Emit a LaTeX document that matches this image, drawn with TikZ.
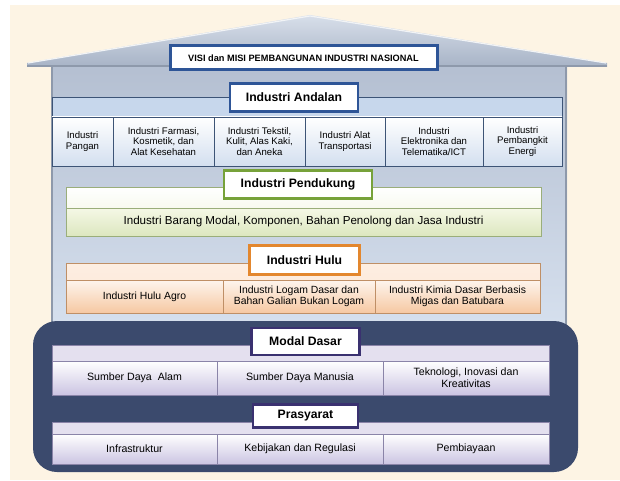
\documentclass[tikz,border=0pt]{standalone}
\usepackage{fontspec}
\setmainfont{Liberation Sans}
\definecolor{cream}{HTML}{FDF4E4}
\definecolor{roofhi}{HTML}{D8DFEA}
\definecolor{roofdk}{HTML}{A7B3C6}
\definecolor{walltop}{HTML}{B4BFD1}
\definecolor{wallbot}{HTML}{D6E0EE}
\definecolor{wallline}{HTML}{8E99AB}
\definecolor{andblue}{HTML}{2E5597}
\definecolor{andstrip}{HTML}{C7D7EC}
\definecolor{andcellb}{HTML}{D3DFEF}
\definecolor{andedge}{HTML}{3D5476}
\definecolor{pendgreen}{HTML}{77A23A}
\definecolor{pendtop}{HTML}{F5F8E6}
\definecolor{pendbot}{HTML}{DCE7BF}
\definecolor{pendedge}{HTML}{9AAE7A}
\definecolor{huluorange}{HTML}{E3872E}
\definecolor{hulutop}{HTML}{FDEEE2}
\definecolor{hulubot}{HTML}{F6C8A2}
\definecolor{huluedge}{HTML}{BF8F66}
\definecolor{basenavy}{HTML}{3B4A6D}
\definecolor{modpurple}{HTML}{3A3170}
\definecolor{modstrip}{HTML}{E4E0EF}
\definecolor{modbot}{HTML}{CBC4E2}
\definecolor{modedge}{HTML}{8A84A8}
\begin{document}
\begin{tikzpicture}[x=1pt,y=-1pt,
  titlebox/.style={draw, fill=white, line width=2.8pt, font=\bfseries\fontsize{12.2}{13}\selectfont,
    inner sep=0pt, align=center},
  cell/.style={inner sep=1pt, align=center, font=\fontsize{9.6}{10.2}\selectfont},
  andcell/.style={cell, draw=andedge, line width=0.9pt, top color=white, bottom color=andcellb},
  pendcell/.style={cell, draw=pendedge, line width=0.6pt, top color=pendtop, bottom color=pendbot,
    font=\fontsize{11.6}{12.5}\selectfont},
  hulucell/.style={cell, draw=huluedge, line width=0.8pt, top color=hulutop!60!white, bottom color=hulubot,
    font=\fontsize{10.4}{11.6}\selectfont},
  modcell/.style={cell, draw=modedge, line width=0.6pt, top color=white, bottom color=modbot,
    font=\fontsize{10.6}{11.6}\selectfont},
]
\useasboundingbox (0,0) rectangle (620,481);
\fill[white] (0,0) rectangle (620,481);
\fill[cream] (10,5) rectangle (620,480);

% house body
\shade[top color=walltop, bottom color=wallbot] (51,62) rectangle (567,330);
\draw[wallline, line width=1.4pt] (52,64) -- (52,330);
\draw[wallline, line width=1.4pt] (566,64) -- (566,330);
% roof
\shade[top color=roofhi, bottom color=roofdk] (27,63) -- (310,15) -- (607,63) -- (607,67) -- (27,67) -- cycle;
\draw[white!85!roofdk, line width=1.2pt] (28,63) -- (310,16) -- (606,63);
\draw[wallline, line width=1.6pt] (27,66) -- (607,66);

% vision banner
\node[titlebox, draw=andblue, line width=3pt, minimum width=267pt, minimum height=24pt,
  font=\bfseries\fontsize{9.2}{10}\selectfont] (visi) at (303.5,58)
  {VISI dan MISI PEMBANGUNAN INDUSTRI NASIONAL};

% Industri Andalan
\node[draw=andedge, line width=0.8pt, fill=andstrip, minimum width=510pt, minimum height=69pt, inner sep=0pt]
  (andpanel) at (307,131.5) {};
\node[andcell, minimum width=61pt, minimum height=49pt] (and1) at (82.5,141.5) {Industri\\Pangan};
\node[andcell, minimum width=101pt, minimum height=49pt] (and2) at (163.5,141.5) {Industri Farmasi,\\Kosmetik, dan\\Alat Kesehatan};
\node[andcell, minimum width=91pt, minimum height=49pt] (and3) at (259.5,141.5) {Industri Tekstil,\\Kulit, Alas Kaki,\\dan Aneka};
\node[andcell, minimum width=80pt, minimum height=49pt] (and4) at (345,141.5) {Industri Alat\\Transportasi};
\node[andcell, minimum width=98pt, minimum height=49pt] (and5) at (434,141.5) {Industri\\Elektronika dan\\Telematika/ICT};
\node[andcell, minimum width=79pt, minimum height=49pt] (and6) at (522.5,141.5) {Industri\\Pembangkit\\Energi};
\node[titlebox, draw=andblue, minimum width=128pt, minimum height=28pt] (andtitle) at (294,97.5) {Industri Andalan};

% Industri Pendukung
\node[draw=pendedge, line width=0.8pt, top color=white, bottom color=pendtop!70!pendbot,
  minimum width=475pt, minimum height=49pt, inner sep=0pt] (pendpanel) at (303.5,211.5) {};
\node[pendcell, minimum width=475pt, minimum height=28pt] (pend1) at (303.5,222)
  {Industri Barang Modal, Komponen, Bahan Penolong dan Jasa Industri};
\node[titlebox, draw=pendgreen, minimum width=148pt, minimum height=28pt] (pendtitle) at (298,184.5) {Industri Pendukung};

% Industri Hulu
\node[draw=huluedge, line width=0.8pt, top color=hulutop, bottom color=hulutop!80!hulubot,
  minimum width=474pt, minimum height=50pt, inner sep=0pt] (hulupanel) at (303,288) {};
\node[hulucell, minimum width=157pt, minimum height=33pt] (hulu1) at (144.5,296.5) {Industri Hulu Agro};
\node[hulucell, minimum width=152pt, minimum height=33pt] (hulu2) at (299,296.5) {Industri Logam Dasar dan\\Bahan Galian Bukan Logam};
\node[hulucell, minimum width=165pt, minimum height=33pt] (hulu3) at (457.5,296.5) {Industri Kimia Dasar Berbasis\\Migas dan Batubara};
\node[titlebox, draw=huluorange, minimum width=110pt, minimum height=29pt] (hulutitle) at (304.5,260) {Industri Hulu};

% foundation
\node[fill=basenavy, rounded corners=24pt, minimum width=545pt, minimum height=151pt, inner sep=0pt]
  (base) at (305.5,396.5) {};

% Modal Dasar
\node[draw=modedge, line width=0.6pt, fill=modstrip, minimum width=497pt, minimum height=50pt, inner sep=0pt]
  (modpanel) at (300.5,370) {};
\node[modcell, minimum width=165pt, minimum height=34pt] (mod1) at (134.5,378) {Sumber Daya\ \ Alam};
\node[modcell, minimum width=166pt, minimum height=34pt] (mod2) at (300,378) {Sumber Daya Manusia};
\node[modcell, minimum width=166pt, minimum height=34pt] (mod3) at (466,378) {Teknologi, Inovasi dan\\Kreativitas};
\node[titlebox, draw=modpurple, minimum width=108pt, minimum height=27pt] (modtitle) at (305.5,341.5) {Modal Dasar};

% Prasyarat
\node[draw=modedge, line width=0.6pt, fill=modstrip, minimum width=497pt, minimum height=42pt, inner sep=0pt]
  (prapanel) at (300.5,443) {};
\node[modcell, minimum width=165pt, minimum height=30pt] (pra1) at (134.5,449) {Infrastruktur};
\node[modcell, minimum width=166pt, minimum height=30pt] (pra2) at (300,449) {Kebijakan dan Regulasi};
\node[modcell, minimum width=166pt, minimum height=30pt] (pra3) at (466,449) {Pembiayaan};
\node[titlebox, draw=modpurple, minimum width=105pt, minimum height=23pt] (pratitle) at (305.5,416) {Prasyarat};
\end{tikzpicture}
\end{document}
